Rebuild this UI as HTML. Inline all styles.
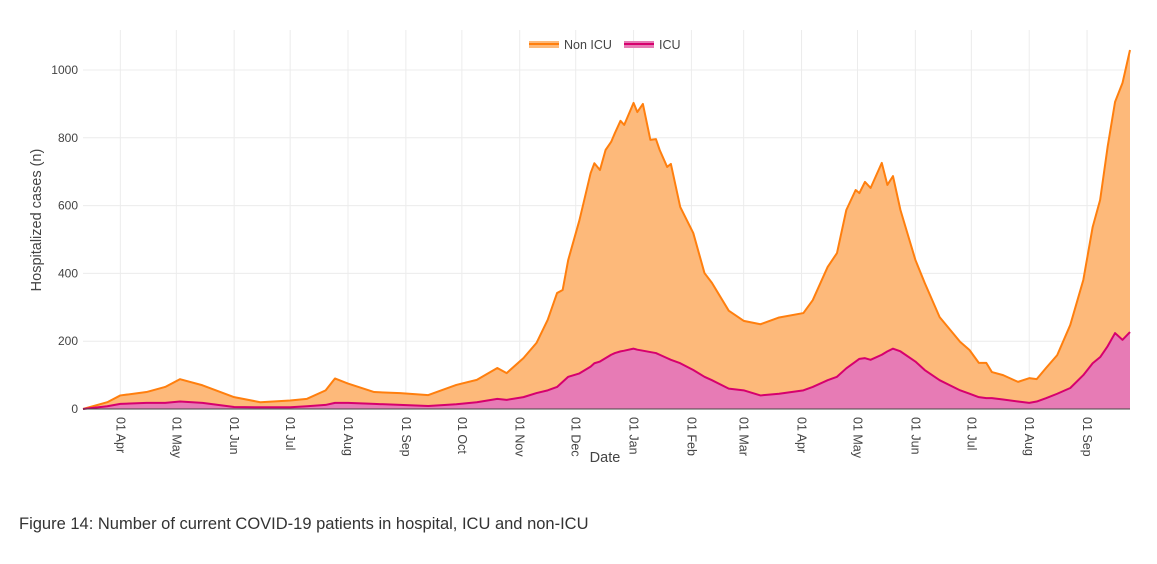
<!DOCTYPE html>
<html><head><meta charset="utf-8"><style>
body{margin:0;background:#fff;font-family:"Liberation Sans",sans-serif;}
svg text{font-family:"Liberation Sans",sans-serif;}
</style></head><body>
<svg id="c" width="1157" height="559"></svg>
<script>
const dates=["2020-03-12","2020-03-25","2020-04-01","2020-04-15","2020-04-25","2020-05-03","2020-05-15","2020-06-01","2020-06-15","2020-07-01","2020-07-10","2020-07-20","2020-07-25","2020-08-01","2020-08-15","2020-08-29","2020-09-13","2020-09-28","2020-10-09","2020-10-20","2020-10-25","2020-11-03","2020-11-10","2020-11-16","2020-11-21","2020-11-24","2020-11-27","2020-12-03","2020-12-09","2020-12-11","2020-12-14","2020-12-17","2020-12-20","2020-12-22","2020-12-25","2020-12-27","2021-01-01","2021-01-03","2021-01-06","2021-01-10","2021-01-13","2021-01-15","2021-01-19","2021-01-21","2021-01-26","2021-02-02","2021-02-08","2021-02-12","2021-02-21","2021-03-01","2021-03-10","2021-03-20","2021-04-02","2021-04-07","2021-04-15","2021-04-20","2021-04-25","2021-04-30","2021-05-02","2021-05-05","2021-05-08","2021-05-14","2021-05-17","2021-05-20","2021-05-24","2021-06-01","2021-06-06","2021-06-14","2021-06-25","2021-06-30","2021-07-05","2021-07-09","2021-07-12","2021-07-18","2021-07-26","2021-08-01","2021-08-05","2021-08-10","2021-08-16","2021-08-23","2021-08-30","2021-09-04","2021-09-08","2021-09-12","2021-09-16","2021-09-20","2021-09-24"];
const icu=[0,8,15,18,18,22,18,6,5,5,8,12,18,18,15,12,9,14,20,30,27,35,47,55,65,80,95,105,125,135,140,150,160,165,170,172,178,175,172,168,165,160,150,145,135,115,95,85,60,55,40,45,55,65,85,95,120,140,148,150,145,160,170,178,170,140,115,85,55,45,35,32,32,28,22,18,22,32,45,62,100,135,153,185,224,204,227];
const nonIcu=[0,12,25,32,47,66,52,29,15,20,22,43,72,57,35,35,32,57,66,91,79,115,148,208,277,271,345,452,571,590,565,614,628,649,680,666,725,701,728,626,631,604,564,578,461,404,306,287,230,205,210,225,228,256,334,365,467,506,489,520,507,566,491,509,417,300,257,186,143,129,101,104,77,72,58,73,66,89,114,186,281,402,464,588,682,758,832];
const yTicks=[0,200,400,600,800,1000];
const xTicks=["2020-04-01","2020-05-01","2020-06-01","2020-07-01","2020-08-01","2020-09-01","2020-10-01","2020-11-01","2020-12-01","2021-01-01","2021-02-01","2021-03-01","2021-04-01","2021-05-01","2021-06-01","2021-07-01","2021-08-01","2021-09-01"];
const xTickLabels=["01 Apr","01 May","01 Jun","01 Jul","01 Aug","01 Sep","01 Oct","01 Nov","01 Dec","01 Jan","01 Feb","01 Mar","01 Apr","01 May","01 Jun","01 Jul","01 Aug","01 Sep"];

const NS="http://www.w3.org/2000/svg",svg=document.getElementById('c');
const x0=83,x1=1130,yB=409,yT=70;
const d0=Date.parse("2020-03-12"),d1=Date.parse("2021-09-24");
const X=d=>x0+(Date.parse(d)-d0)/(d1-d0)*(x1-x0);
const Y=v=>yB-v/1000*(yB-yT);
function el(t,a,p){const e=document.createElementNS(NS,t);for(const k in a)e.setAttribute(k,a[k]);(p||svg).appendChild(e);return e;}

yTicks.forEach(v=>{
  const g=el('line',{x1:x0,x2:x1,y1:Y(v),y2:Y(v),stroke:'#ececec'});
  
  
  const t=el('text',{x:78,y:Y(v)+4,'text-anchor':'end','font-size':12,fill:'#444'});
  t.textContent=v;
  
  
});
xTicks.forEach((d,i)=>{
  const g=el('line',{x1:X(d),x2:X(d),y1:30,y2:yB,stroke:'#ececec'});
  
  
  const t=el('text',{transform:`translate(${X(d)-4},417) rotate(90)`,'font-size':12.5,fill:'#444'});
  t.textContent=xTickLabels[i];
  
  
});

const tot=icu.map((v,i)=>v+nonIcu[i]);
function area(top,bot,fill,line,name){
  let p='M'+dates.map((d,i)=>X(d)+','+Y(top[i])).join('L');
  for(let i=dates.length-1;i>=0;i--)p+='L'+X(dates[i])+','+Y(bot?bot[i]:0);
  const a=el('path',{d:p+'Z',fill:fill});
  
  
  const l=el('path',{d:'M'+dates.map((d,i)=>X(d)+','+Y(top[i])).join('L'),fill:'none',stroke:line,'stroke-width':2,'stroke-linejoin':'round'});
  
  
}
area(tot,icu,'#fdb97a','#ff7f0e','non-icu');
area(icu,null,'#e77bb5','#d6006e','icu');
const ax=el('line',{x1:x0,x2:x1,y1:yB,y2:yB,stroke:'#444'});


</script>
<svg width="1157" height="559" style="position:absolute;left:0;top:0">
<g>
<g><rect x="529" y="41" width="30" height="7" fill="#fdb97a"/><line x1="529" x2="559" y1="44" y2="44" stroke="#ff7f0e" stroke-width="2"/><text x="564" y="49" font-size="12.5" fill="#444">Non ICU</text></g>
<g><rect x="624" y="41" width="30" height="7" fill="#e77bb5"/><line x1="624" x2="654" y1="44" y2="44" stroke="#d6006e" stroke-width="2"/><text x="659" y="49" font-size="12.5" fill="#444">ICU</text></g>
</g>
<text transform="translate(41,220) rotate(-90)" text-anchor="middle" font-size="14.5" fill="#444">Hospitalized cases (n)</text>
<text x="605" y="462" text-anchor="middle" font-size="14.5" fill="#444">Date</text>
<text x="19" y="529" font-size="16.5" fill="#333">Figure 14: Number of current COVID-19 patients in hospital, ICU and non-ICU</text>
</svg>
</body></html>
